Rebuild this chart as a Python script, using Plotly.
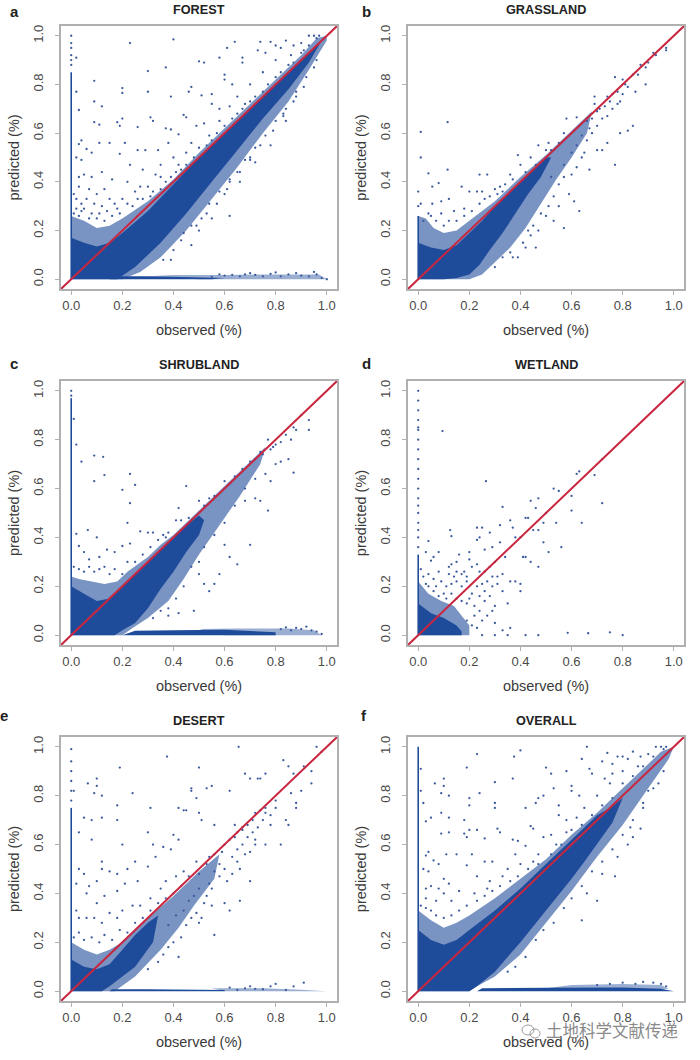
import plotly.graph_objects as go

BLUE = "#1f4b9b"
RED = "#c9263f"
TICKS = [0.0, 0.2, 0.4, 0.6, 0.8, 1.0]
TICK_LABELS = ["0.0", "0.2", "0.4", "0.6", "0.8", "1.0"]
PANEL_TITLES = ["FOREST", "GRASSLAND", "SHRUBLAND", "WETLAND", "DESERT", "OVERALL"]
PANEL_LETTERS = ["a", "b", "c", "d", "e", "f"]

FOREST_CORE = [(0,0),(0,.17),(.05,.15),(.1,.135),(.15,.15),(.2,.19),(.3,.28),(.4,.39),(.5,.5),(.6,.6),(.7,.7),(.8,.8),(.9,.9),(.98,.98),(.93,.89),(.85,.78),(.75,.66),(.65,.53),(.55,.4),(.45,.27),(.35,.15),(.25,.05),(.18,0)]
FOREST_FRINGE = [(0,0),(0,.26),(.05,.24),(.1,.21),(.15,.22),(.2,.25),(.3,.32),(.4,.41),(.5,.52),(.6,.62),(.7,.72),(.8,.82),(.9,.92),(.96,.99),(1,1),(1,.98),(.93,.86),(.85,.73),(.75,.6),(.65,.46),(.55,.33),(.45,.2),(.35,.09),(.27,.03),(.2,0)]
FOREST_STRIP = [(.15,0),(.55,0),(.6,.005),(.3,.012),(.16,.012)]
FOREST_STRIP_FRINGE = [(.5,0),(1,0),(.97,.02),(.8,.02),(.6,.018),(.4,.018),(.3,.012)]
FOREST_SPIKE = [(0,0),(0,.85)]
FOREST_DOTS = [(0,.88),(0,.9),(0,.92),(0,.95),(0,.97),(0,1),(.02,.91),(.23,.97),(.4,.985),(.09,.815),(.2,.785),(.2,.765),(.3,.77),(.3,.855),(.37,.87),(.5,.895),(.52,.89),(.58,.91),(.64,.975),(.61,.95),(.73,.94),(.76,.93),(.74,.975),(.78,.975),(.8,.96),(.82,.95),(.84,.98),(.87,.96),(.67,.91),(.67,.89),(.6,.84),(.6,.82),(.47,.79),(.46,.77),(.51,.755),(.55,.76),(.63,.8),(.39,.75),(.02,.77),(.03,.695),(.09,.73),(.12,.71),(.09,.645),(.11,.635),(.18,.645),(.2,.66),(.19,.63),(.31,.665),(.32,.65),(.26,.625),(.04,.57),(.03,.555),(.06,.535),(.11,.56),(.15,.56),(.02,.5),(.04,.49),(.08,.52),(.19,.515),(.21,.56),(.26,.53),(.29,.53),(.37,.62),(.39,.615),(.42,.595),(.44,.675),(.45,.665),(.49,.63),(.52,.64),(.55,.72),(.58,.7),(.62,.71),(.65,.75),(.68,.72),(.7,.8),(.75,.85),(.8,.9),(.86,.92),(.9,.97),(.93,1),(.95,1),(.97,1),(.03,.42),(.05,.43),(.08,.42),(.12,.44),(.16,.41),(.23,.47),(.28,.45),(.03,.38),(.07,.37),(.1,.35),(.13,.37),(.15,.33),(.22,.4),(.27,.38),(.33,.43),(.35,.47),(.4,.5),(.45,.52),(.34,.53),(.38,.56),(.47,.56),(.54,.59),(.58,.65),(.01,.35),(.02,.33),(.04,.31),(.06,.33),(.09,.31),(.12,.3),(.17,.31),(.2,.33),(.25,.36),(.3,.38),(.35,.42),(.42,.47),(.62,.4),(.66,.4),(.6,.35),(.7,.5),(.78,.55),(.72,.48),(.83,.67),(.84,.65),(.88,.75),(.62,.26),(.55,.25),(.5,.2),(.47,.14),(.39,.08),(.02,.29),(.05,.29),(.08,.27),(.11,.27),(.14,.28),(.18,.29),(.22,.31),(.26,.33),(.32,.36),(.37,.4),(.43,.45),(.48,.5),(.53,.55),(.57,.6),(.63,.66),(.67,.7),(.72,.75),(.77,.8),(.82,.85),(.87,.89),(.91,.94),(.43,.16),(.49,.22),(.53,.27),(.57,.31),(.61,.37),(.66,.44),(.7,.49),(.74,.55),(.79,.61),(.83,.68),(.87,.73),(.91,.79),(.95,.87),(.01,.27),(.03,.26),(.04,.28),(.07,.25),(.1,.25),(.13,.24),(.16,.26),(.19,.27),(.24,.3),(.28,.33),(.31,.34),(.35,.37),(.39,.42),(.41,.44),(.45,.47),(.5,.54),(.55,.57),(.6,.63),(.65,.68),(.7,.73),(.75,.77),(.8,.83),(.85,.88),(.9,.93),(.93,.96),(.96,.99),(.36,.08),(.4,.12),(.44,.19),(.47,.22),(.51,.25),(.54,.31),(.58,.36),(.62,.41),(.65,.44),(.68,.49),(.72,.54),(.76,.59),(.8,.65),(.84,.7),(.88,.77),(.92,.83),(.96,.9),(.55,.01),(.58,.02),(.6,.015),(.63,.018),(.66,.012),(.68,.02),(.7,.025),(.72,.018),(.75,.012),(.78,.022),(.8,.028),(.82,.012),(.85,.02),(.88,.025),(.9,.015),(.93,.012),(.95,.03),(.96,.02),(.98,.005),(1,0)]

GRASS_CORE = [(0,0),(0,.15),(.05,.13),(.1,.12),(.15,.14),(.2,.19),(.25,.24),(.3,.3),(.35,.35),(.4,.4),(.45,.45),(.5,.5),(.52,.5),(.48,.42),(.43,.35),(.38,.27),(.33,.19),(.28,.12),(.24,.06),(.2,.02),(.15,.005),(.1,0)]
GRASS_FRINGE = [(0,0),(0,.26),(.03,.25),(.06,.21),(.1,.19),(.15,.2),(.2,.24),(.25,.28),(.3,.32),(.35,.37),(.4,.42),(.5,.51),(.6,.61),(.68,.69),(.66,.6),(.6,.5),(.54,.41),(.48,.31),(.42,.21),(.36,.13),(.3,.07),(.25,.02),(.2,0)]
GRASS_STRIP = [(0,0),(0,0)]
GRASS_STRIP_FRINGE = [(0,0),(0,0)]
GRASS_SPIKE = [(0,0),(0,.26)]
GRASS_DOTS = [(0,.3),(0,.36),(.01,.5),(.01,.605),(.115,.645),(.115,.45),(.04,.435),(.08,.395),(.055,.38),(.01,.31),(.055,.31),(.09,.32),(.12,.33),(.17,.38),(.2,.36),(.23,.36),(.24,.43),(.25,.36),(.27,.43),(.18,.29),(.14,.28),(.09,.27),(.05,.26),(.26,.33),(.3,.37),(.32,.38),(.33,.36),(.36,.43),(.4,.47),(.39,.51),(.44,.5),(.47,.55),(.5,.53),(.51,.56),(.57,.6),(.58,.66),(.61,.61),(.62,.665),(.7,.69),(.69,.72),(.69,.75),(.74,.75),(.76,.76),(.77,.83),(.8,.82),(.84,.84),(.86,.84),(.87,.88),(.89,.87),(.9,.89),(.92,.93),(.93,.92),(.97,.94),(.97,.95),(.82,.79),(.85,.77),(.89,.8),(.8,.76),(.79,.73),(.84,.63),(.82,.61),(.79,.6),(.74,.56),(.72,.53),(.7,.53),(.67,.45),(.63,.28),(.61,.32),(.59,.35),(.57,.21),(.55,.3),(.53,.24),(.5,.26),(.52,.42),(.47,.2),(.44,.18),(.46,.13),(.39,.09),(.42,.13),(.37,.09),(.6,.52),(.66,.57),(.68,.6),(.65,.52),(.77,.47),(.02,.24),(.04,.27),(.07,.24),(.1,.22),(.12,.24),(.15,.24),(.18,.26),(.21,.28),(.24,.31),(.28,.34),(.31,.35),(.34,.39),(.37,.41),(.42,.44),(.46,.47),(.52,.53),(.55,.56),(.59,.59),(.63,.63),(.66,.65),(.68,.66),(.71,.7),(.73,.71),(.75,.73),(.78,.77),(.81,.8),(.57,.47),(.62,.55),(.64,.59),(.67,.62),(.7,.63),(.72,.66),(.74,.67),(.76,.7),(.78,.72),(.55,.39),(.57,.42),(.6,.43),(.62,.46),(.64,.5),(.53,.34),(.51,.3),(.48,.27),(.45,.22),(.43,.2),(.41,.15),(.36,.11),(.33,.09),(.3,.05)]

SHRUB_CORE = [(0,0),(0,.2),(.05,.17),(.1,.14),(.15,.15),(.2,.2),(.25,.25),(.3,.3),(.35,.35),(.4,.4),(.45,.45),(.5,.49),(.52,.47),(.5,.41),(.45,.34),(.4,.26),(.35,.19),(.3,.11),(.25,.05),(.2,.02),(.17,0)]
SHRUB_FRINGE = [(0,0),(0,.24),(.03,.23),(.08,.22),(.13,.21),(.18,.22),(.22,.26),(.3,.32),(.35,.37),(.4,.41),(.5,.51),(.6,.61),(.7,.71),(.76,.77),(.74,.7),(.66,.57),(.58,.45),(.5,.33),(.44,.23),(.38,.14),(.3,.07),(.24,.03),(.2,0)]
SHRUB_STRIP = [(.2,0),(.6,0),(.8,0),(.8,.012),(.6,.022),(.4,.02),(.25,.018)]
SHRUB_STRIP_FRINGE = [(.6,0),(.98,0),(.95,.02),(.85,.028),(.65,.028),(.5,.025)]
SHRUB_SPIKE = [(0,0),(0,.97)]
SHRUB_DOTS = [(0,.98),(0,1),(.01,.885),(.02,.78),(.04,.71),(.09,.735),(.125,.73),(.09,.63),(.13,.655),(.2,.595),(.23,.66),(.25,.615),(.23,.54),(.22,.46),(.02,.415),(.065,.43),(.1,.4),(.03,.365),(.05,.34),(.07,.31),(.11,.32),(.14,.35),(.17,.34),(.2,.365),(.23,.375),(.27,.425),(.3,.42),(.32,.42),(.36,.41),(.37,.4),(.45,.61),(.42,.52),(.41,.47),(.43,.47),(.5,.55),(.54,.56),(.6,.63),(.64,.65),(.7,.71),(.74,.75),(.77,.8),(.79,.77),(.82,.79),(.87,.85),(.88,.84),(.9,.9),(.93,.88),(.93,.84),(.87,.665),(.77,.51),(.7,.37),(.68,.55),(.72,.56),(.74,.55),(.78,.63),(.82,.71),(.85,.72),(.6,.37),(.62,.32),(.65,.29),(.56,.21),(.52,.21),(.5,.25),(.48,.1),(.42,.09),(.38,.08),(.54,.18),(.58,.25),(.01,.28),(.03,.27),(.05,.26),(.07,.28),(.09,.26),(.11,.27),(.13,.28),(.15,.25),(.17,.27),(.2,.25),(.22,.3),(.25,.3),(.28,.33),(.31,.36),(.34,.39),(.38,.42),(.46,.48),(.52,.53),(.56,.57),(.62,.62),(.67,.68),(.72,.72),(.75,.74),(.78,.76),(.8,.78),(.84,.82),(.86,.8),(.8,.7),(.76,.66),(.72,.64),(.68,.6),(.64,.53),(.6,.46),(.56,.41),(.52,.36),(.5,.3),(.47,.28),(.44,.2),(.41,.15),(.38,.11),(.35,.1),(.32,.07),(.82,.025),(.84,.032),(.86,.02),(.88,.03),(.9,.025),(.92,.035),(.94,.02),(.96,.015),(.98,.005)]

WET_CORE = [(0,0),(0,.13),(.05,.09),(.1,.07),(.15,.04),(.17,.015),(.17,0)]
WET_FRINGE = [(0,0),(0,.22),(.04,.17),(.09,.14),(.14,.12),(.17,.08),(.2,.04),(.2,0)]
WET_STRIP = [(0,0),(0,0)]
WET_STRIP_FRINGE = [(0,0),(0,0)]
WET_SPIKE = [(0,0),(0,.33)]
WET_DOTS = [(0,.36),(0,.4),(0,.43),(0,.46),(0,.5),(0,.53),(0,.56),(0,.6),(0,.64),(0,.68),(0,.72),(0,.76),(0,.8),(0,.84),(0,.85),(0,.88),(0,.92),(0,.96),(0,1),(.095,.835),(.265,.63),(.33,.525),(.04,.385),(.125,.43),(.13,.405),(.08,.34),(.06,.32),(.03,.34),(.05,.305),(.13,.29),(.15,.3),(.16,.33),(.2,.34),(.2,.31),(.18,.26),(.17,.25),(.12,.25),(.08,.26),(.23,.44),(.25,.44),(.24,.4),(.23,.39),(.28,.42),(.26,.35),(.29,.36),(.32,.45),(.32,.38),(.34,.32),(.3,.3),(.28,.28),(.24,.26),(.27,.22),(.31,.24),(.33,.25),(.36,.47),(.37,.44),(.38,.4),(.4,.4),(.42,.48),(.43,.48),(.44,.55),(.47,.56),(.46,.52),(.45,.43),(.47,.43),(.49,.46),(.5,.5),(.49,.38),(.51,.34),(.53,.6),(.55,.59),(.56,.36),(.54,.46),(.6,.57),(.6,.51),(.62,.66),(.63,.67),(.64,.46),(.69,.655),(.72,.54),(.72,.72),(.36,.22),(.38,.22),(.4,.21),(.4,.18),(.41,.32),(.42,.32),(.44,.3),(.47,.28),(.33,.18),(.35,.13),(.3,.12),(.27,.08),(.29,.1),(.3,.05),(.33,.02),(.36,.03),(.35,0),(.42,0),(.47,0),(.585,.01),(.665,.008),(.75,.012),(.8,0),(.3,0),(.25,0),(.22,.12),(.2,.15),(.24,.16),(.26,.14),(.01,.27),(.02,.24),(.04,.25),(.06,.23),(.03,.21),(.07,.2),(.09,.22),(.11,.2),(.13,.21),(.15,.22),(.17,.2),(.19,.22),(.1,.17),(.13,.17),(.15,.15),(.17,.14),(.19,.13),(.21,.17),(.23,.2),(.25,.21),(.26,.18),(.28,.16),(.24,.1),(.22,.08),(.21,.04),(.19,.06),(.23,.03),(.25,.06),(.06,.18),(.04,.2),(.08,.16),(.11,.15),(.12,.28),(.15,.26),(.14,.24),(.19,.24),(.21,.28),(.23,.29),(.26,.26),(.29,.24),(.31,.21),(.29,.2)]

DESERT_CORE = [(0,0),(0,.13),(.05,.1),(.1,.09),(.15,.11),(.2,.17),(.25,.23),(.3,.28),(.34,.31),(.32,.2),(.25,.1),(.2,.06),(.15,.02),(.12,0)]
DESERT_FRINGE = [(0,0),(0,.2),(.05,.17),(.1,.15),(.15,.17),(.2,.2),(.3,.3),(.4,.39),(.5,.49),(.58,.56),(.56,.46),(.48,.35),(.42,.26),(.35,.17),(.25,.06),(.17,0)]
DESERT_STRIP = [(.15,0),(.6,0),(.6,.005),(.3,.008),(.16,.008)]
DESERT_STRIP_FRINGE = [(.6,0),(1,0),(.9,.006),(.75,.012),(.55,.012)]
DESERT_SPIKE = [(0,0),(0,.75)]
DESERT_DOTS = [(0,.78),(0,.82),(0,.86),(0,.9),(0,.94),(0,.99),(.01,.82),(.065,.85),(.1,.87),(.1,.84),(.09,.81),(.12,.8),(.19,.915),(.24,.81),(.375,.96),(.5,.915),(.655,1),(.96,1),(.98,.98),(.91,.92),(.83,.945),(.85,.92),(.68,.89),(.7,.87),(.73,.87),(.76,.89),(.74,.87),(.53,.83),(.47,.82),(.47,.83),(.55,.84),(.62,.82),(.49,.79),(.42,.75),(.44,.74),(.45,.74),(.18,.76),(.18,.7),(.05,.71),(.08,.7),(.12,.71),(.03,.65),(.08,.62),(.31,.75),(.3,.65),(.2,.6),(.32,.6),(.36,.59),(.39,.58),(.4,.64),(.42,.62),(.5,.73),(.51,.7),(.56,.68),(.6,.6),(.64,.68),(.67,.66),(.8,.78),(.84,.7),(.85,.68),(.88,.77),(.88,.75),(.94,.85),(.9,.82),(.94,.9),(.82,.6),(.7,.45),(.66,.37),(.56,.23),(.6,.36),(.62,.33),(.51,.3),(.5,.28),(.42,.14),(.03,.5),(.02,.44),(.05,.48),(.1,.45),(.12,.53),(.12,.5),(.15,.49),(.18,.48),(.22,.5),(.25,.53),(.07,.43),(.06,.4),(.1,.36),(.13,.39),(.18,.41),(.21,.44),(.26,.45),(.3,.51),(.33,.55),(.02,.33),(.03,.3),(.06,.3),(.09,.3),(.12,.28),(.15,.32),(.18,.3),(.2,.33),(.24,.35),(.27,.35),(.31,.38),(.35,.42),(.37,.45),(.41,.47),(.44,.49),(.49,.53),(.54,.55),(.65,.65),(.72,.73),(.76,.75),(.8,.75),(.76,.6),(.72,.6),(.66,.5),(.78,.68),(.86,.81),(.87,.89),(.01,.22),(.03,.24),(.05,.21),(.08,.22),(.11,.2),(.13,.23),(.16,.21),(.19,.25),(.22,.24),(.25,.28),(.28,.3),(.31,.33),(.34,.36),(.37,.38),(.4,.4),(.43,.43),(.46,.47),(.5,.48),(.53,.52),(.56,.56),(.59,.57),(.62,.62),(.64,.63),(.67,.67),(.69,.68),(.71,.7),(.74,.74),(.76,.73),(.58,.52),(.6,.5),(.63,.55),(.65,.58),(.67,.6),(.69,.63),(.71,.65),(.73,.67),(.75,.7),(.78,.72),(.58,.47),(.61,.45),(.63,.48),(.65,.53),(.68,.56),(.7,.57),(.72,.62),(.55,.42),(.53,.39),(.52,.36),(.49,.32),(.47,.3),(.45,.27),(.43,.22),(.4,.2),(.38,.18),(.36,.15),(.34,.12),(.3,.09),(.55,.35),(.54,.44),(.56,.49),(.46,.37),(.5,.42),(.44,.33),(.48,.39),(.38,.27),(.41,.31),(.62,.015),(.65,.005),(.68,.012),(.7,.02),(.72,.01),(.75,.008),(.78,.02),(.8,.03),(.84,.005),(.87,.02),(.91,.035)]

OVERALL_CORE = [(0,0),(0,.25),(.05,.21),(.1,.19),(.15,.21),(.2,.25),(.3,.33),(.4,.42),(.5,.52),(.6,.62),(.7,.72),(.75,.75),(.8,.79),(.76,.69),(.65,.53),(.6,.46),(.5,.33),(.4,.2),(.3,.08),(.23,.02),(.2,0)]
OVERALL_FRINGE = [(0,0),(0,.33),(.05,.29),(.1,.26),(.15,.28),(.2,.31),(.3,.38),(.4,.46),(.5,.54),(.6,.64),(.7,.73),(.8,.83),(.9,.93),(.95,.98),(1,1),(.98,.95),(.9,.83),(.8,.68),(.7,.55),(.6,.41),(.5,.28),(.4,.15),(.3,.06),(.23,.02),(.2,0)]
OVERALL_STRIP = [(.23,0),(1,0),(.95,.01),(.8,.015),(.5,.014),(.25,.012)]
OVERALL_STRIP_FRINGE = [(.5,.012),(.95,.008),(.98,.01),(.95,.025),(.8,.03),(.6,.025)]
OVERALL_SPIKE = [(0,0),(0,1)]
OVERALL_DOTS = [(.01,.91),(.01,.82),(.23,.97),(.375,.96),(.4,.985),(.66,1),(.64,.95),(.19,.915),(.065,.85),(.1,.87),(.1,.84),(.09,.81),(.12,.8),(.24,.81),(.2,.79),(.2,.76),(.3,.77),(.3,.855),(.37,.87),(.5,.915),(.52,.89),(.58,.9),(.72,.94),(.76,.93),(.74,.975),(.78,.96),(.8,.96),(.82,.95),(.84,.98),(.87,.96),(.67,.91),(.68,.89),(.73,.87),(.76,.89),(.6,.84),(.6,.82),(.47,.79),(.46,.77),(.49,.8),(.53,.83),(.55,.76),(.63,.8),(.42,.75),(.02,.77),(.03,.695),(.05,.71),(.09,.73),(.12,.71),(.09,.645),(.12,.65),(.18,.645),(.18,.7),(.2,.66),(.23,.66),(.19,.63),(.31,.665),(.32,.65),(.26,.625),(.3,.75),(.04,.57),(.03,.555),(.06,.535),(.11,.56),(.15,.56),(.02,.5),(.04,.49),(.08,.52),(.19,.515),(.21,.56),(.26,.53),(.29,.53),(.37,.62),(.39,.615),(.42,.595),(.44,.675),(.45,.665),(.49,.63),(.52,.64),(.55,.72),(.58,.7),(.62,.71),(.65,.75),(.7,.8),(.75,.85),(.8,.9),(.86,.92),(.9,.97),(.93,1),(.95,1),(.97,1),(.03,.42),(.05,.43),(.08,.42),(.1,.46),(.12,.44),(.16,.41),(.23,.47),(.28,.45),(.03,.38),(.07,.37),(.1,.4),(.13,.37),(.22,.4),(.27,.42),(.33,.47),(.35,.5),(.4,.52),(.45,.53),(.38,.56),(.47,.56),(.54,.6),(.58,.65),(.66,.4),(.7,.37),(.64,.29),(.77,.47),(.78,.55),(.72,.48),(.83,.67),(.87,.665),(.88,.75),(.94,.85),(.9,.82),(.82,.6),(.84,.63),(.01,.35),(.03,.34),(.05,.33),(.07,.31),(.1,.3),(.13,.31),(.16,.33),(.19,.35),(.23,.37),(.26,.39),(.29,.41),(.32,.43),(.36,.45),(.39,.47),(.43,.5),(.47,.52),(.52,.56),(.56,.6),(.6,.66),(.64,.68),(.68,.72),(.72,.76),(.76,.79),(.8,.85),(.84,.88),(.88,.92),(.92,.96),(.96,.99),(.35,.08),(.38,.1),(.42,.14),(.46,.21),(.49,.25),(.53,.28),(.57,.34),(.6,.38),(.64,.43),(.68,.49),(.72,.53),(.76,.58),(.8,.64),(.84,.7),(.88,.77),(.92,.83),(.96,.9),(.7,.025),(.75,.03),(.8,.035),(.85,.03),(.88,.038),(.92,.035),(.95,.03),(.97,.02)]

PANELS = [
    (FOREST_CORE, FOREST_FRINGE, FOREST_STRIP, FOREST_STRIP_FRINGE, FOREST_SPIKE, FOREST_DOTS),
    (GRASS_CORE, GRASS_FRINGE, GRASS_STRIP, GRASS_STRIP_FRINGE, GRASS_SPIKE, GRASS_DOTS),
    (SHRUB_CORE, SHRUB_FRINGE, SHRUB_STRIP, SHRUB_STRIP_FRINGE, SHRUB_SPIKE, SHRUB_DOTS),
    (WET_CORE, WET_FRINGE, WET_STRIP, WET_STRIP_FRINGE, WET_SPIKE, WET_DOTS),
    (DESERT_CORE, DESERT_FRINGE, DESERT_STRIP, DESERT_STRIP_FRINGE, DESERT_SPIKE, DESERT_DOTS),
    (OVERALL_CORE, OVERALL_FRINGE, OVERALL_STRIP, OVERALL_STRIP_FRINGE, OVERALL_SPIKE, OVERALL_DOTS),
]
DIAGONAL = [-0.04, 1.04]

W, H = 700, 1060
COLS = [(61, 337), (408, 684)]
ROWS = [(26, 289), (381, 645), (737, 1001)]
LETTER_X = [[14, 366], [14, 366], [4, 364]]
LETTER_Y = [11, 364, 715]
FONT = "Liberation Sans"

def px(v):
    return v / W

def py(v):
    return 1 - v / H

fig = go.Figure()
annotations = []
for i, (core, fringe, strip, strip_fringe, spike, dots) in enumerate(PANELS):
    r, c = i // 2, i % 2
    ax = "" if i == 0 else str(i + 1)
    xa, ya = "x" + ax, "y" + ax
    def poly(pts, color):
        xs, ys = zip(*pts)
        fig.add_trace(go.Scatter(x=xs, y=ys, xaxis=xa, yaxis=ya, mode="lines", fill="toself",
                                 fillcolor=color, line=dict(width=0, simplify=False), hoverinfo="skip", showlegend=False))
    poly(fringe, "rgba(31,75,155,0.6)")
    poly(strip_fringe, "rgba(31,75,155,0.45)")
    poly(core, BLUE)
    poly(strip, BLUE)
    sx, sy = zip(*spike)
    fig.add_trace(go.Scatter(x=sx, y=sy, xaxis=xa, yaxis=ya, mode="lines", line=dict(color=BLUE, width=1.6),
                             hoverinfo="skip", showlegend=False))
    dx, dy = zip(*dots)
    fig.add_trace(go.Scatter(x=dx, y=dy, xaxis=xa, yaxis=ya, mode="markers",
                             marker=dict(color="#3a5a9e", size=2.3, line=dict(width=0)), showlegend=False))
    fig.add_trace(go.Scatter(x=DIAGONAL, y=DIAGONAL, xaxis=xa, yaxis=ya, mode="lines",
                             line=dict(color=RED, width=2), hoverinfo="skip", showlegend=False))
    (x0, x1), (y0, y1) = COLS[c], ROWS[r]
    common = dict(range=[-0.04, 1.04], tickvals=TICKS, ticktext=TICK_LABELS, showgrid=False, zeroline=False,
                  showline=True, mirror=True, linecolor="#b0b0b0", linewidth=1.5, ticks="outside", ticklen=4,
                  tickcolor="#b0b0b0", tickfont=dict(family=FONT, size=13, color="#4a4a4a"))
    fig.layout["xaxis" + ax] = go.layout.XAxis(domain=[px(x0), px(x1)], anchor=ya,
        title=dict(text="observed (%)", standoff=13, font=dict(family=FONT, size=14.5, color="#3a3a3a")), **common)
    fig.layout["yaxis" + ax] = go.layout.YAxis(domain=[py(y1), py(y0)], anchor=xa, tickangle=-90, ticklabelstandoff=7,
        title=dict(text="predicted (%)", standoff=8, font=dict(family=FONT, size=14.5, color="#3a3a3a")), **common)
    annotations.append(dict(text="<b>%s</b>" % PANEL_TITLES[i], x=px((x0 + x1) / 2), y=py(y0 - 16),
                            xref="paper", yref="paper", showarrow=False, xanchor="center", yanchor="middle",
                            font=dict(family=FONT, size=12.7, color="#222")))
    annotations.append(dict(text="<b>%s</b>" % PANEL_LETTERS[i], x=px(LETTER_X[r][c]), y=py(LETTER_Y[r]),
                            xref="paper", yref="paper", showarrow=False, xanchor="center", yanchor="middle",
                            font=dict(family=FONT, size=15, color="#222")))

annotations.append(dict(text="土地科学文献传递", x=px(612), y=py(1030), xref="paper", yref="paper", showarrow=False,
                        xanchor="center", yanchor="middle", font=dict(family="Noto Sans CJK SC", size=16.5, color="#8a8a8a")))
fig.update_layout(width=W, height=H, margin=dict(l=0, r=0, t=0, b=0), paper_bgcolor="white", plot_bgcolor="white",
                  annotations=annotations, showlegend=False,
                  shapes=[dict(type="circle", xref="paper", yref="paper", x0=px(522), x1=px(534), y0=py(1035), y1=py(1025),
                               line=dict(color="#9a9a9a", width=1)),
                          dict(type="circle", xref="paper", yref="paper", x0=px(530), x1=px(540), y0=py(1038), y1=py(1029),
                               line=dict(color="#9a9a9a", width=1))])
fig.write_html("out.html", config={"displayModeBar": False},
               post_script="document.body.style.margin='0';document.documentElement.style.overflow='hidden';")
